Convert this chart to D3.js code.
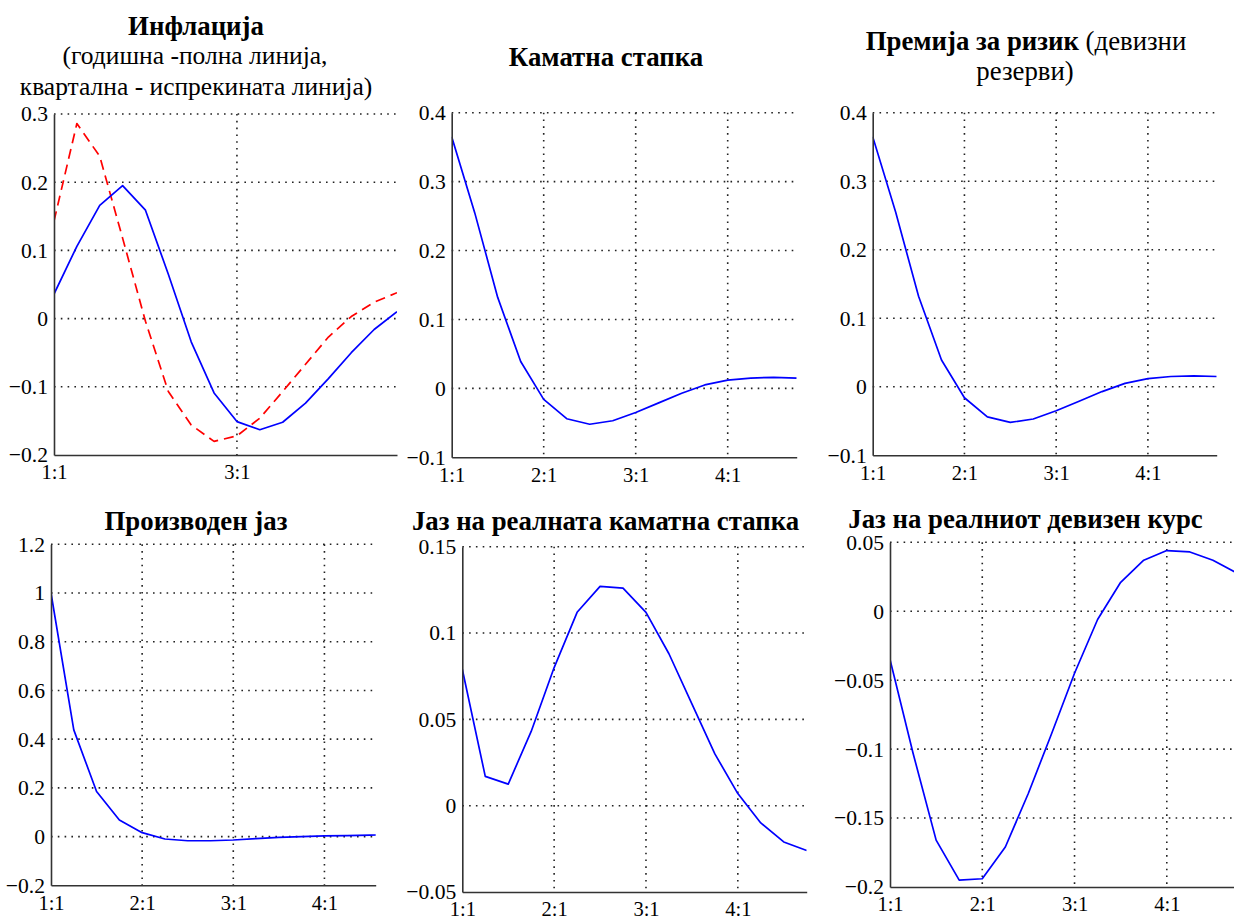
<!DOCTYPE html>
<html>
<head>
<meta charset="utf-8">
<script src="https://cdn.jsdelivr.net/npm/d3@7/dist/d3.min.js"></script>
<style>
  html, body { margin: 0; padding: 0; background: #ffffff; }
  svg { display: block; }
  text { font-family: "Liberation Serif", "Times New Roman", serif; fill: #000; }
</style>
</head>
<body>
<svg id="chart" width="1234" height="918"></svg>
<script>
// Quarter index (1 = 1:1, 5 = 2:1, 9 = 3:1, 13 = 4:1)
const quarters = [1, 2, 3, 4, 5, 6, 7, 8, 9, 10, 11, 12, 13, 14, 15, 16];
const yearTicks = [1, 5, 9, 13];
const yearTickLabels = ["1:1", "2:1", "3:1", "4:1"];

// Inflation: annual (solid) and quarterly (dashed)
const inflationAnnual = [0.036, 0.106, 0.166, 0.195, 0.159, 0.065, -0.034, -0.109,
                         -0.151, -0.163, -0.152, -0.124, -0.088, -0.050, -0.016, 0.010];
const inflationQuarterly = [0.143, 0.286, 0.238, 0.118, -0.004, -0.107, -0.156, -0.180,
                            -0.172, -0.146, -0.107, -0.067, -0.027, 0.003, 0.024, 0.038];
// Interest rate
const interestRate = [0.365, 0.255, 0.132, 0.039, -0.016, -0.044, -0.052, -0.047,
                      -0.035, -0.021, -0.007, 0.005, 0.012, 0.015, 0.016, 0.015];
// Risk premium (FX reserves)
const riskPremium = [0.365, 0.255, 0.132, 0.039, -0.016, -0.044, -0.052, -0.047,
                     -0.035, -0.021, -0.007, 0.005, 0.012, 0.015, 0.016, 0.015];
// Output gap
const outputGap = [1.0, 0.438, 0.185, 0.068, 0.016, -0.010, -0.017, -0.017,
                   -0.014, -0.008, -0.003, 0.000, 0.003, 0.004, 0.006, 0.008];
// Real interest rate gap
const realRateGap = [0.079, 0.017, 0.0125, 0.043, 0.080, 0.112, 0.127, 0.126,
                     0.112, 0.088, 0.059, 0.030, 0.007, -0.010, -0.021, -0.026];
// Real exchange rate gap
const realExchangeGap = [-0.035, -0.103, -0.166, -0.195, -0.194, -0.171, -0.132, -0.089,
                         -0.045, -0.006, 0.021, 0.037, 0.044, 0.043, 0.037, 0.028];

// Y tick values per panel
const ticksInflation = [-0.2, -0.1, 0, 0.1, 0.2, 0.3];
const ticksRate = [-0.1, 0, 0.1, 0.2, 0.3, 0.4];
const ticksOutput = [-0.2, 0, 0.2, 0.4, 0.6, 0.8, 1, 1.2];
const ticksRealRate = [-0.05, 0, 0.05, 0.1, 0.15];
const ticksRealExch = [-0.2, -0.15, -0.1, -0.05, 0, 0.05];

const svg = d3.select("#chart");
const fmt = v => String(+v.toFixed(3)).replace("-", "\u2212");

const TITLE_SIZE = 26.8;
const SUB_SIZE = 25.5;
const YTICK_SIZE = 21.6;
const XTICK_SIZE = 20.5;

let clipId = 0;
function panel(opt) {
  const x = d3.scaleLinear().domain(opt.xDomain).range([opt.left, opt.right]);
  const y = d3.scaleLinear().domain(opt.yDomain).range([opt.bottom, opt.top]);
  const g = svg.append("g");

  // dotted grid
  const grid = g.append("g").attr("stroke", "#222").attr("stroke-width", 1.6)
    .attr("stroke-dasharray", "1.6,5.2");
  opt.yTicks.filter(t => t !== opt.yDomain[0]).forEach(t => {
    grid.append("line").attr("x1", opt.left).attr("x2", opt.right)
      .attr("y1", y(t)).attr("y2", y(t));
  });
  opt.xTicks.filter(t => t !== opt.xDomain[0]).forEach(t => {
    grid.append("line").attr("x1", x(t)).attr("x2", x(t))
      .attr("y1", opt.top).attr("y2", opt.bottom);
  });

  // data lines
  const id = "clip" + (clipId++);
  svg.append("clipPath").attr("id", id).append("rect")
    .attr("x", opt.left).attr("y", opt.top - 2)
    .attr("width", opt.right - opt.left).attr("height", opt.bottom - opt.top + 4);
  const lines = g.append("g").attr("clip-path", `url(#${id})`);
  opt.series.forEach(s => {
    const line = d3.line().x((d, i) => x(quarters[i])).y(d => y(d));
    lines.append("path").attr("d", line(s.values))
      .attr("fill", "none").attr("stroke", s.color).attr("stroke-width", 1.7)
      .attr("stroke-linejoin", "round")
      .attr("stroke-dasharray", s.dash || null);
  });

  // axes (left and bottom only)
  const yAxis = d3.axisLeft(y).tickValues(opt.yTicks).tickSize(0).tickPadding(6)
    .tickFormat(fmt);
  const ya = g.append("g").attr("transform", `translate(${opt.left},0)`).call(yAxis);
  const xAxis = d3.axisBottom(x).tickValues(opt.xTicks).tickSize(0).tickPadding(7)
    .tickFormat(d => yearTickLabels[yearTicks.indexOf(d)]);
  const xa = g.append("g").attr("transform", `translate(0,${opt.bottom})`).call(xAxis);
  [ya, xa].forEach(a => {
    a.attr("font-family", null).attr("font-size", null);
    a.select(".domain").attr("stroke", "#333").attr("stroke-width", 1.6);
    a.selectAll("text").attr("fill", "#000");
  });
  ya.selectAll("text").style("font-size", YTICK_SIZE + "px");
  xa.selectAll("text").style("font-size", XTICK_SIZE + "px").attr("dy", "0.85em");

  // titles
  opt.titles.forEach(t => {
    const tx = g.append("text").attr("x", t.x).attr("y", t.y)
      .attr("text-anchor", "middle").style("font-size", t.size + "px");
    t.parts.forEach(p => {
      tx.append("tspan").attr("font-weight", p.bold ? "bold" : "normal").text(p.text);
    });
  });
}

const blue = "#0000ff", red = "#ff0000";

panel({
  left: 54, right: 397, top: 114, bottom: 455,
  xDomain: [1, 16], yDomain: [-0.2, 0.3], xTicks: [1, 9], yTicks: ticksInflation,
  series: [{ values: inflationQuarterly, color: red, dash: "10,6" },
           { values: inflationAnnual, color: blue }],
  titles: [
    { x: 196, y: 35, size: TITLE_SIZE, parts: [{ text: "Инфлација", bold: true }] },
    { x: 195, y: 64, size: SUB_SIZE, parts: [{ text: "(годишна -полна линија," }] },
    { x: 196, y: 95, size: SUB_SIZE, parts: [{ text: "квартална - испрекината линија)" }] }
  ]
});

panel({
  left: 451.7, right: 796.7, top: 112.7, bottom: 457.3,
  xDomain: [1, 16], yDomain: [-0.1, 0.4], xTicks: yearTicks, yTicks: ticksRate,
  series: [{ values: interestRate, color: blue }],
  titles: [{ x: 606, y: 66, size: TITLE_SIZE, parts: [{ text: "Каматна стапка", bold: true }] }]
});

panel({
  left: 872.7, right: 1216.7, top: 112.7, bottom: 455.3,
  xDomain: [1, 16], yDomain: [-0.1, 0.4], xTicks: yearTicks, yTicks: ticksRate,
  series: [{ values: riskPremium, color: blue }],
  titles: [
    { x: 1026, y: 50, size: TITLE_SIZE, parts: [{ text: "Премија за ризик", bold: true },
                                                { text: " (девизни" }] },
    { x: 1025, y: 80, size: TITLE_SIZE, parts: [{ text: "резерви)" }] }
  ]
});

panel({
  left: 51, right: 375.7, top: 544.3, bottom: 885.3,
  xDomain: [1, 15.25], yDomain: [-0.2, 1.2], xTicks: yearTicks, yTicks: ticksOutput,
  series: [{ values: outputGap, color: blue }],
  titles: [{ x: 196, y: 530, size: TITLE_SIZE, parts: [{ text: "Производен јаз", bold: true }] }]
});

panel({
  left: 462.3, right: 806.7, top: 546.7, bottom: 892,
  xDomain: [1, 16], yDomain: [-0.05, 0.15], xTicks: yearTicks, yTicks: ticksRealRate,
  series: [{ values: realRateGap, color: blue }],
  titles: [{ x: 605.5, y: 530, size: TITLE_SIZE,
             parts: [{ text: "Јаз на реалната каматна стапка", bold: true }] }]
});

panel({
  left: 890, right: 1236, top: 542.3, bottom: 887,
  xDomain: [1, 16], yDomain: [-0.2, 0.05], xTicks: yearTicks, yTicks: ticksRealExch,
  series: [{ values: realExchangeGap, color: blue }],
  titles: [{ x: 1025.5, y: 528, size: TITLE_SIZE,
             parts: [{ text: "Јаз на реалниот девизен курс", bold: true }] }]
});
</script>
</body>
</html>
